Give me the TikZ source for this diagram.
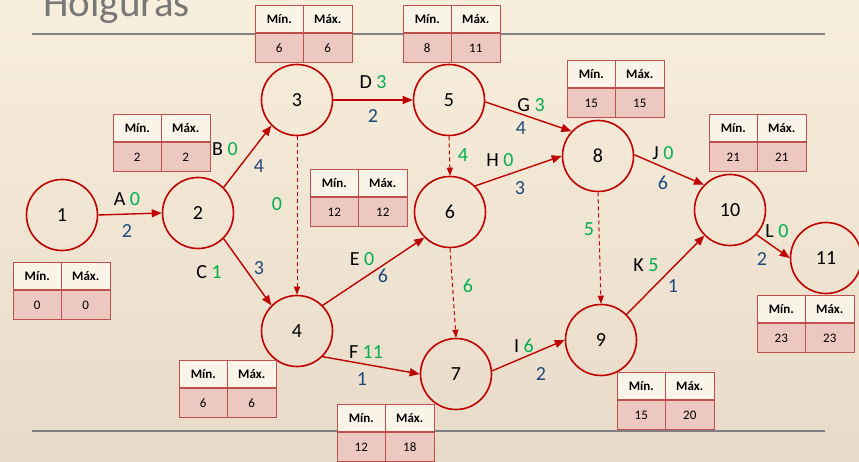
\documentclass[tikz,border=0pt]{standalone}
\usepackage{fontspec}
\setmainfont{Carlito}
\usetikzlibrary{arrows.meta}
\definecolor{nred}{RGB}{192,0,0}
\definecolor{lgreen}{RGB}{0,176,80}
\definecolor{dblue}{RGB}{31,73,125}
\definecolor{tabred}{RGB}{192,80,77}
\definecolor{rulegray}{RGB}{128,128,128}
\definecolor{titlegray}{RGB}{120,120,120}
\definecolor{bgtop}{RGB}{248,238,220}
\definecolor{bgbot}{RGB}{232,218,200}
\definecolor{hdrfill}{RGB}{250,244,232}
\definecolor{valfill}{RGB}{236,200,192}
\tikzset{
  ev/.style={circle, draw=nred, line width=1.6pt, minimum size=71pt, inner sep=0pt, font=\fontsize{20}{20}\selectfont},
  act/.style={draw=nred, line width=1.4pt, -{Triangle[length=10pt,width=8pt]}},
  dummy/.style={draw=nred, line width=1pt, dash pattern=on 4pt off 3pt, -{Triangle[length=8pt,width=6pt]}},
  lab/.style={font=\fontsize{20}{20}\selectfont, inner sep=0pt},
  dur/.style={lab, text=dblue},
  slk/.style={lab, text=lgreen},
  hdr/.style={font=\fontsize{13}{13}\selectfont\bfseries, inner sep=0pt},
  val/.style={font=\fontsize{13}{13}\selectfont, inner sep=0pt},
  tabline/.style={draw=tabred, line width=0.9pt},
  rulel/.style={draw=rulegray, line width=2pt}
}
\newcommand\mmtab[4]{%
  \begin{scope}[shift={#2}]
    \fill[hdrfill] (0,0) rectangle (97,28);
    \fill[valfill] (0,28) rectangle (97,57);
    \draw[tabline] (0,0) rectangle (97,57) (48.5,0) -- (48.5,57);
    \draw[tabline, line width=2pt] (0,28) -- (97,28);
    \node[hdr] (#1hmin) at (24.25,14.5) {Mín.};
    \node[hdr] (#1hmax) at (72.75,14.5) {Máx.};
    \node[val] (#1min) at (24.25,43) {#3};
    \node[val] (#1max) at (72.75,43) {#4};
  \end{scope}}
\begin{document}
\begin{tikzpicture}[x=1pt,y=-1pt]
\useasboundingbox (0,0) rectangle (859,462);
\clip (0,0) rectangle (859,462);
\shade[top color=bgtop, bottom color=bgbot] (0,0) rectangle (859,462);
% title and rules
\node[anchor=base west, inner sep=0pt, text=titlegray, font=\fontsize{41}{41}\selectfont] (title) at (43,17) {Holguras};
\draw[rulel] (32,34) -- (825,34);
\draw[rulel] (32,431) -- (825,431);
% events
\node[ev] (n1) at (62,215) {1};
\node[ev] (n2) at (198,213) {2};
\node[ev] (n3) at (297,100) {3};
\node[ev] (n4) at (297,331) {4};
\node[ev] (n5) at (449,100) {5};
\node[ev] (n6) at (450,212) {6};
\node[ev] (n7) at (456,374) {7};
\node[ev] (n8) at (598,156) {8};
\node[ev] (n9) at (601,340) {9};
\node[ev] (n10) at (730,210) {10};
\node[ev] (n11) at (826,258) {11};
% activities
\draw[act] (n1.0) -- (n2.180);
\draw[act] (n2.45) -- (n3.225);
\draw[act] (n2.-45) -- (n4.135);
\draw[act] (n3.0) -- (n5.180);
\draw[act] (n4.45) -- (n6.225);
\draw[act] (n4.-45) -- (n7.180);
\draw[act] (n5.-3) -- (n8.137);
\draw[act] (n6.46) -- (n8.180);
\draw[act] (n7.5) -- (n9.180);
\draw[act] (n8.2) -- (n10.136);
\draw[act] (n9.45) -- (n10.225);
\draw[act] (n10.-43) -- (n11.180);
\draw[dummy] (n3.270) -- (n4.90);
\draw[dummy] (n5.270) -- (n6.90);
\draw[dummy] (n6.270) -- (n7.90);
\draw[dummy] (n8.270) -- (n9.90);
% labels
\node[lab] (lA) at (127,199) {A \textcolor{lgreen}{0}};
\node[dur] (dA) at (127,231) {2};
\node[lab] (lB) at (225,149) {B \textcolor{lgreen}{0}};
\node[dur] (dB) at (259,166) {4};
\node[lab] (lC) at (209,272) {C \textcolor{lgreen}{1}};
\node[dur] (dC) at (259,268) {3};
\node[lab] (lD) at (373,82) {D \textcolor{lgreen}{3}};
\node[dur] (dD) at (373,116) {2};
\node[slk] (s34) at (277,204) {0};
\node[lab] (lG) at (531,105) {G \textcolor{lgreen}{3}};
\node[dur] (dG) at (521,128) {4};
\node[slk] (s56) at (463,155) {4};
\node[lab] (lH) at (500,160) {H \textcolor{lgreen}{0}};
\node[dur] (dH) at (520,188) {3};
\node[lab] (lE) at (362,259) {E \textcolor{lgreen}{0}};
\node[dur] (dE) at (383,276) {6};
\node[slk] (s67) at (468,286) {6};
\node[lab] (lF) at (366,352) {F \textcolor{lgreen}{11}};
\node[dur] (dF) at (362,379) {1};
\node[lab] (lI) at (524,346) {I \textcolor{lgreen}{6}};
\node[dur] (dI) at (541,374) {2};
\node[lab] (lJ) at (663,153) {J \textcolor{lgreen}{0}};
\node[dur] (dJ) at (663,183) {6};
\node[slk] (s89) at (589,229) {5};
\node[lab] (lK) at (646,265) {K \textcolor{lgreen}{5}};
\node[dur] (dK) at (673,286) {1};
\node[lab] (lL) at (777,231) {L \textcolor{lgreen}{0}};
\node[dur] (dL) at (762,259) {2};
% tables
\mmtab{t1}{(13,262)}{0}{0}
\mmtab{t2}{(113,114)}{2}{2}
\mmtab{t3}{(255,5)}{6}{6}
\mmtab{t4}{(179,360)}{6}{6}
\mmtab{t5}{(403,5)}{8}{11}
\mmtab{t6}{(310,169)}{12}{12}
\mmtab{t7}{(337,404)}{12}{18}
\mmtab{t8}{(567,60)}{15}{15}
\mmtab{t9}{(617,372)}{15}{20}
\mmtab{t10}{(709,114)}{21}{21}
\mmtab{t11}{(757,295)}{23}{23}
\end{tikzpicture}
\end{document}
